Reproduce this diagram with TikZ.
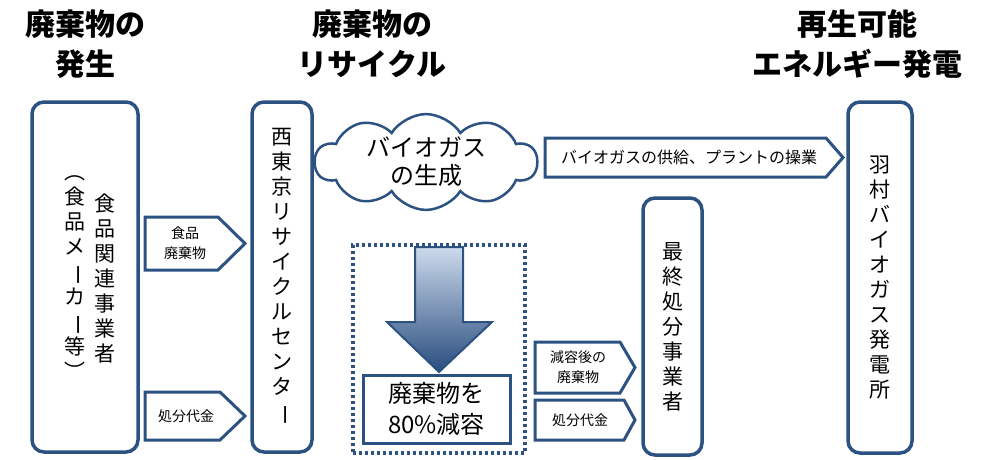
\documentclass[tikz,border=0pt]{standalone}
\usepackage{fontspec}
\setmainfont{Noto Sans CJK JP}
\usetikzlibrary{shapes.symbols}

\definecolor{flowblue}{RGB}{44, 82, 130}
\definecolor{arrowtop}{RGB}{205, 218, 236}
\definecolor{arrowbot}{RGB}{40, 76, 126}

\newcommand{\vbar}{\rotatebox[origin=c]{-90}{ー}}

\tikzset{
  header/.style={font=\bfseries\fontsize{30}{40}\selectfont, align=center, inner sep=0pt},
  flowbox/.style={draw=flowblue, line width=3.5pt, rounded corners=12pt, fill=white},
  vlabel/.style={font=\fontsize{21}{25}\selectfont, align=center, inner sep=0pt},
  arrowline/.style={draw=flowblue, line width=3pt, fill=white, line join=miter},
  arrowtext/.style={align=center, inner sep=0pt, font=\fontsize{14}{20}\selectfont},
}

\begin{document}
\begin{tikzpicture}[x=1pt, y=-1pt]
    \useasboundingbox (0,0) rectangle (992,459);

    % Headings
    \node[header] (hgen) at (85,44) {廃棄物の\\発生};
    \node[header] (hrec) at (372,44) {廃棄物の\\リサイクル};
    \node[header] (hpow) at (857,44) {再生可能\\エネルギー発電};

    % Food companies
    \node[flowbox, minimum width=106, minimum height=350] (gen) at (85,277) {};
    \node[vlabel] (genname) at (105,278) {食\\品\\関\\連\\事\\業\\者};
    \node[vlabel] (gennote) at (75,278) {︵\\食\\品\\メ\\\vbar\\カ\\\vbar\\等\\︶};

    % Recycle center
    \node[flowbox, vlabel, minimum width=60, minimum height=350] (center) at (282,277)
      {西\\東\\京\\リ\\サ\\イ\\ク\\ル\\セ\\ン\\タ\\\vbar};

    % Waste and fee
    \draw[arrowline] (145,217) -- (218,217) -- (245,243.5) -- (218,270) -- (145,270) -- cycle;
    \node[arrowtext] (waste) at (185,243.5) {食品\\廃棄物};
    \draw[arrowline] (145,392) -- (220,392) -- (245,416) -- (220,440) -- (145,440) -- cycle;
    \node[arrowtext] (fee) at (186,416) {処分代金};

    % Biogas
    \node[cloud, cloud puffs=10, cloud puff arc=115, cloud ignores aspect, draw=flowblue,
      line width=2.5pt, fill=white, minimum width=222, minimum height=95, align=center,
      inner sep=0pt, font=\fontsize{24}{28}\selectfont] (gas) at (426,162) {バイオガス\\の生成};
    \draw[arrowline] (545,138) -- (826,138) -- (843,157.5) -- (826,177) -- (545,177) -- cycle;
    \node[arrowtext, font=\fontsize{16}{20}\selectfont] (supply) at (689,157.5)
      {バイオガスの供給、プラントの操業};

    % Volume reduction
    \node[draw=flowblue, line width=3.5pt, dash pattern=on 3pt off 3pt,
      minimum width=172, minimum height=208] (zone) at (439,349) {};
    \shade[draw=flowblue, line width=2pt, top color=arrowtop, bottom color=arrowbot]
      (415,247) -- (463,247) -- (463,322) -- (492,322) -- (439,372)
      -- (387,322) -- (415,322) -- cycle;
    \node[draw=flowblue, line width=3pt, fill=white, minimum width=147, minimum height=68,
      align=center, inner sep=0pt, font=\fontsize{24}{31}\selectfont]
      (reduce) at (436.5,409) {廃棄物を\\80\%減容};

    % Final disposal
    \draw[arrowline] (535,342) -- (620,342) -- (635,367.5) -- (620,393) -- (535,393) -- cycle;
    \node[arrowtext] (rest) at (578,367.5) {減容後の\\廃棄物};
    \draw[arrowline] (535,400) -- (624,400) -- (635,420) -- (624,440) -- (535,440) -- cycle;
    \node[arrowtext] (fee2) at (580,420) {処分代金};
    \node[flowbox, vlabel, minimum width=59, minimum height=257] (final) at (672.5,326.5)
      {最\\終\\処\\分\\事\\業\\者};

    % Power plant
    \node[flowbox, vlabel, minimum width=64, minimum height=351] (plant) at (880,277.5)
      {羽\\村\\バ\\イ\\オ\\ガ\\ス\\発\\電\\所};
\end{tikzpicture}
\end{document}
